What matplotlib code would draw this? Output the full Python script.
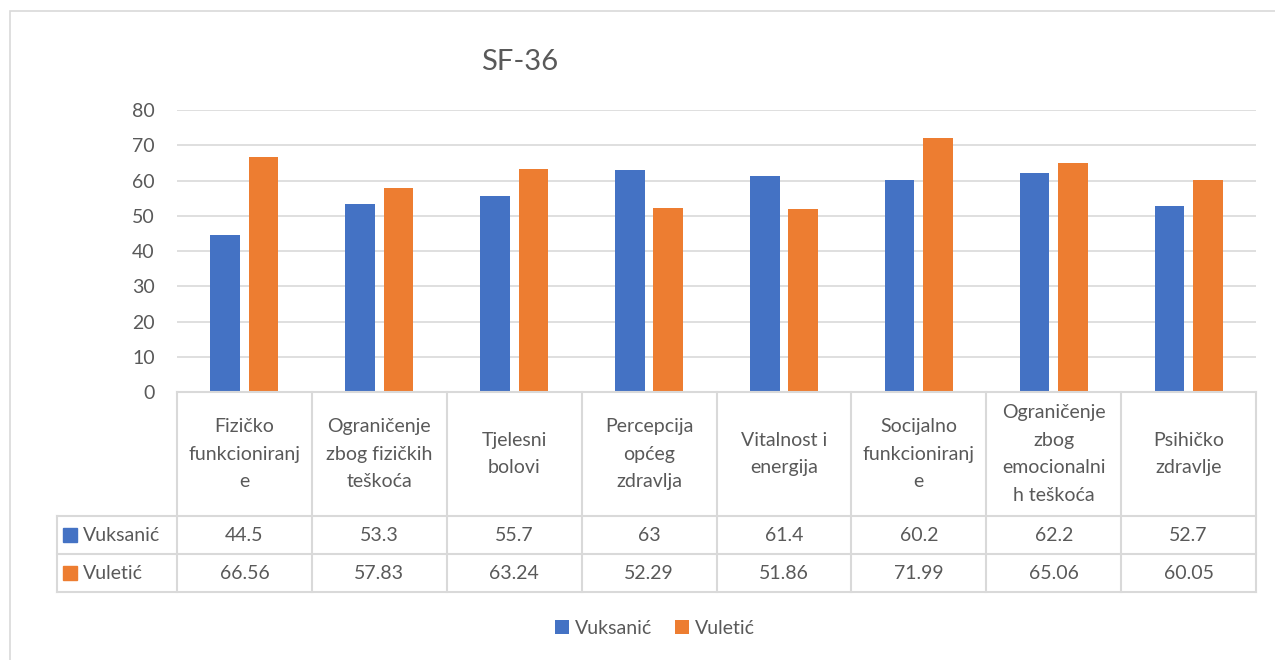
import matplotlib
matplotlib.use("Agg")
import matplotlib.pyplot as plt
from matplotlib.patches import Rectangle
from matplotlib.transforms import blended_transform_factory

plt.rcParams['font.family'] = ['Lato', 'DejaVu Sans']

# data
categories = ["Fizičko\nfunkcioniranj\ne", "Ograničenje\nzbog fizičkih\nteškoća",
              "Tjelesni\nbolovi", "Percepcija\nopćeg\nzdravlja", "Vitalnost i\nenergija",
              "Socijalno\nfunkcioniranj\ne", "Ograničenje\nzbog\nemocionalni\nh teškoća",
              "Psihičko\nzdravlje"]
vuksanic = [44.5, 53.3, 55.7, 63, 61.4, 60.2, 62.2, 52.7]
vuletic = [66.56, 57.83, 63.24, 52.29, 51.86, 71.99, 65.06, 60.05]
vuksanic_txt = ["44.5", "53.3", "55.7", "63", "61.4", "60.2", "62.2", "52.7"]
vuletic_txt = ["66.56", "57.83", "63.24", "52.29", "51.86", "71.99", "65.06", "60.05"]
series_names = ["Vuksanić", "Vuletić"]

BLUE = "#4472C4"
ORANGE = "#ED7D31"
TXT = "#595959"
GRID = "#D9D9D9"
FS = 14

W, H = 1275, 660
fig = plt.figure(figsize=(W / 100, H / 100), dpi=100)

# outer chart border (right and bottom edges fall outside the image)
fig.patches.append(Rectangle((10 / W, -0.5), 2, 1.5 - 11 / H, transform=fig.transFigure,
                             fill=False, edgecolor=GRID, linewidth=1.2))

left, right, top, bottom = 177, 1256, 110, 392
ax = fig.add_axes([left / W, 1 - bottom / H, (right - left) / W, (bottom - top) / H])

x = list(range(len(categories)))
bw = 0.22
ax.bar([i - 0.142 for i in x], vuksanic, width=bw, color=BLUE, label=series_names[0])
ax.bar([i + 0.142 for i in x], vuletic, width=bw, color=ORANGE, label=series_names[1])

ax.set_xlim(-0.5, len(categories) - 0.5)
ax.set_ylim(0, 80)
ax.set_yticks(range(0, 81, 10))
ax.set_xticks([])
ax.tick_params(axis='y', length=0, pad=16, labelsize=FS, labelcolor=TXT)
ax.grid(axis='y', color=GRID, linewidth=1.2)
ax.set_axisbelow(True)
for s in ax.spines.values():
    s.set_visible(False)

fig.text(520 / W, 1 - 62 / H, "SF-36", ha='center', va='center', fontsize=21, color=TXT)

# data table under the plot
tr = blended_transform_factory(ax.transData, ax.transAxes)
ah = bottom - top
y_head = -(516 - bottom) / ah
y_r1 = -(554 - bottom) / ah
y_r2 = -(592 - bottom) / ah
xl = -0.5 - (left - 57) / ((right - left) / len(categories))
xr = len(categories) - 0.5
lk = dict(color=GRID, linewidth=1.5, transform=tr, clip_on=False)

ax.plot([-0.5, xr], [0, 0], **lk)
for yy in (y_head, y_r1, y_r2):
    ax.plot([xl, xr], [yy, yy], **lk)
for i in range(len(categories) + 1):
    ax.plot([i - 0.5, i - 0.5], [0, y_r2], **lk)
ax.plot([xl, xl], [y_head, y_r2], **lk)

for i, cat in enumerate(categories):
    ax.text(i, y_head / 2, cat, transform=tr, ha='center', va='center', fontsize=FS,
            color=TXT, linespacing=1.75, clip_on=False)
    ax.text(i, (y_head + y_r1) / 2, vuksanic_txt[i], transform=tr, ha='center',
            va='center', fontsize=FS, color=TXT, clip_on=False)
    ax.text(i, (y_r1 + y_r2) / 2, vuletic_txt[i], transform=tr, ha='center',
            va='center', fontsize=FS, color=TXT, clip_on=False)

# legend keys in the table
for yy0, yy1, col, name in ((y_head, y_r1, BLUE, series_names[0]), (y_r1, y_r2, ORANGE, series_names[1])):
    ym = (yy0 + yy1) / 2
    ax.plot([xl + 0.1], [ym], marker='s', markersize=10, color=col, transform=tr, clip_on=False)
    ax.text(xl + 0.19, ym, name, transform=tr, ha='left', va='center', fontsize=FS,
            color=TXT, clip_on=False)

leg = fig.legend(loc='center', bbox_to_anchor=(655 / W, 1 - 628 / H), ncol=2, frameon=False,
                 fontsize=FS, handlelength=0.7, handleheight=0.7, handletextpad=0.3,
                 columnspacing=1.2)
for t in leg.get_texts():
    t.set_color(TXT)

fig.savefig("out.png", dpi=100)
